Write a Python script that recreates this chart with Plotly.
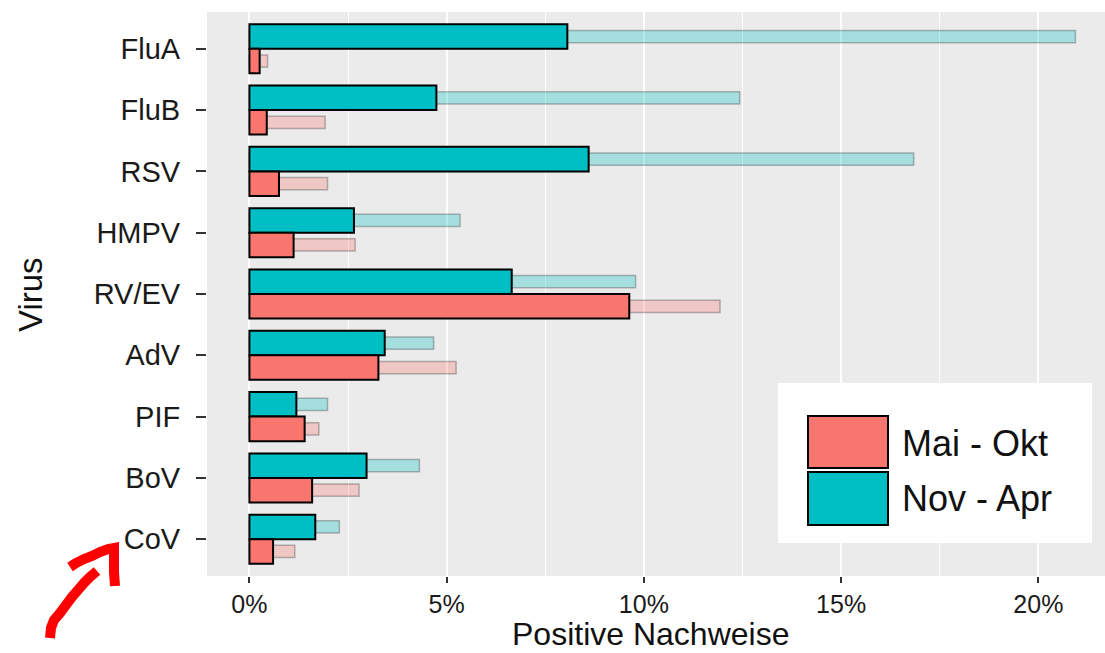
import plotly.graph_objects as go

# ---------------- data ----------------
viruses = ["FluA", "FluB", "RSV", "HMPV", "RV/EV", "AdV", "PIF", "BoV", "CoV"]
series_names = ["Mai - Okt", "Nov - Apr"]
# solid bars (percent)
mai_okt = [0.26, 0.44, 0.75, 1.12, 9.63, 3.27, 1.40, 1.59, 0.60]
nov_apr = [8.06, 4.74, 8.60, 2.65, 6.65, 3.43, 1.19, 2.97, 1.67]
# pale background bars (percent)
mai_okt_upper = [0.46, 1.92, 1.98, 2.68, 11.93, 5.24, 1.76, 2.78, 1.15]
nov_apr_upper = [20.94, 12.43, 16.84, 5.34, 9.79, 4.67, 1.98, 4.31, 2.28]
x_tickvals = [0, 5, 10, 15, 20]
x_ticktext = ["0%", "5%", "10%", "15%", "20%"]
x_title = "Positive Nachweise"
y_title = "Virus"

# ---------------- styling ----------------
RED = "#F8766D"
TEAL = "#00BFC4"
FONT = "Liberation Sans, Arial, Helvetica, sans-serif"
W, H = 1105, 653
ML, MR, MT, MB = 207, 0, 12, 77
PW, PH = W - ML - MR, H - MT - MB


def px_x(x):
    return (x - ML) / PW


def px_y(y):
    return (H - MB - y) / PH


fig = go.Figure()

# pale bars behind
fig.add_trace(go.Bar(
    y=viruses, x=nov_apr_upper, orientation="h", name=series_names[1] + " (max)",
    offset=-0.3, width=0.2, marker=dict(color="rgba(0,191,196,0.3)",
                                          line=dict(color="rgba(60,60,60,0.35)", width=1.5)),
    showlegend=False))
fig.add_trace(go.Bar(
    y=viruses, x=mai_okt_upper, orientation="h", name=series_names[0] + " (max)",
    offset=0.1, width=0.2, marker=dict(color="rgba(248,118,109,0.3)",
                                         line=dict(color="rgba(60,60,60,0.35)", width=1.5)),
    showlegend=False))
# solid bars
fig.add_trace(go.Bar(
    y=viruses, x=nov_apr, orientation="h", name=series_names[1],
    offset=-0.4, width=0.4, marker=dict(color=TEAL, line=dict(color="black", width=2)),
    showlegend=False))
fig.add_trace(go.Bar(
    y=viruses, x=mai_okt, orientation="h", name=series_names[0],
    offset=0.0, width=0.4, marker=dict(color=RED, line=dict(color="black", width=2)),
    showlegend=False))

shapes = []
# custom legend (ggplot-like large keys)
shapes.append(dict(type="rect", xref="paper", yref="paper",
                   x0=px_x(778), x1=px_x(1092), y0=px_y(543), y1=px_y(383),
                   fillcolor="white", line=dict(width=0), layer="above"))
shapes.append(dict(type="rect", xref="paper", yref="paper",
                   x0=px_x(808), x1=px_x(888), y0=px_y(468), y1=px_y(416),
                   fillcolor=RED, line=dict(color="black", width=2), layer="above"))
shapes.append(dict(type="rect", xref="paper", yref="paper",
                   x0=px_x(808), x1=px_x(888), y0=px_y(525), y1=px_y(472),
                   fillcolor=TEAL, line=dict(color="black", width=2), layer="above"))

# hand-drawn red arrow markup
stroke1 = [(50, 638), (51, 628), (54, 620), (60, 613), (66, 605), (72, 597),
           (78, 590), (84, 583), (90, 577), (97, 571)]
stroke2 = [(70, 567), (76, 563), (84, 559), (92, 556), (100, 552), (108, 549),
           (114, 548), (114, 560), (114, 572), (115, 586)]
for pts in (stroke1, stroke2):
    path = "M " + " L ".join(f"{px_x(x):.5f},{px_y(y):.5f}" for x, y in pts)
    shapes.append(dict(type="path", xref="paper", yref="paper", path=path,
                       line=dict(color="#FF0000", width=10), layer="above"))

annotations = [
    dict(text=series_names[0], xref="paper", yref="paper", x=px_x(900), y=px_y(443),
         xanchor="left", yanchor="middle", showarrow=False,
         font=dict(family=FONT, size=36, color="#111")),
    dict(text=series_names[1], xref="paper", yref="paper", x=px_x(900), y=px_y(498),
         xanchor="left", yanchor="middle", showarrow=False,
         font=dict(family=FONT, size=36, color="#111")),
    # axis titles
    dict(text=x_title, xref="paper", yref="paper", x=px_x(650), y=px_y(654),
         xanchor="center", yanchor="bottom", showarrow=False,
         font=dict(family=FONT, size=32, color="#111")),
    dict(text=y_title, xref="paper", yref="paper", x=px_x(30), y=px_y(295),
         xanchor="center", yanchor="middle", showarrow=False, textangle=-90,
         font=dict(family=FONT, size=33, color="#111")),
]

fig.update_layout(
    width=W, height=H, autosize=False,
    margin=dict(l=ML, r=MR, t=MT, b=MB, pad=0),
    barmode="overlay",
    paper_bgcolor="white", plot_bgcolor="#EBEBEB",
    font=dict(family=FONT, color="#111"),
    showlegend=False,
    shapes=shapes, annotations=annotations,
    xaxis=dict(
        range=[-1.075, 21.69], tickvals=x_tickvals, ticktext=x_ticktext,
        showgrid=True, gridcolor="white", gridwidth=2, zeroline=False,
        minor=dict(dtick=2.5, tick0=0, showgrid=True, gridcolor="white", gridwidth=1),
        ticks="outside", ticklen=6, tickwidth=2, tickcolor="#333",
        tickfont=dict(family=FONT, size=25, color="#1a1a1a"),
        ticklabelstandoff=0,
        showline=False,
    ),
    yaxis=dict(
        type="category", categoryorder="array", categoryarray=viruses,
        range=[8.6, -0.6],
        showgrid=False, zeroline=False, showline=False,
        ticks="outside", ticklen=10, tickwidth=2, tickcolor="#333",
        tickfont=dict(family=FONT, size=29, color="#1a1a1a"),
        ticklabelstandoff=10,
    ),
)

fig.write_html("out.html", config={"displayModeBar": False},
               post_script="document.body.style.margin='0';")
